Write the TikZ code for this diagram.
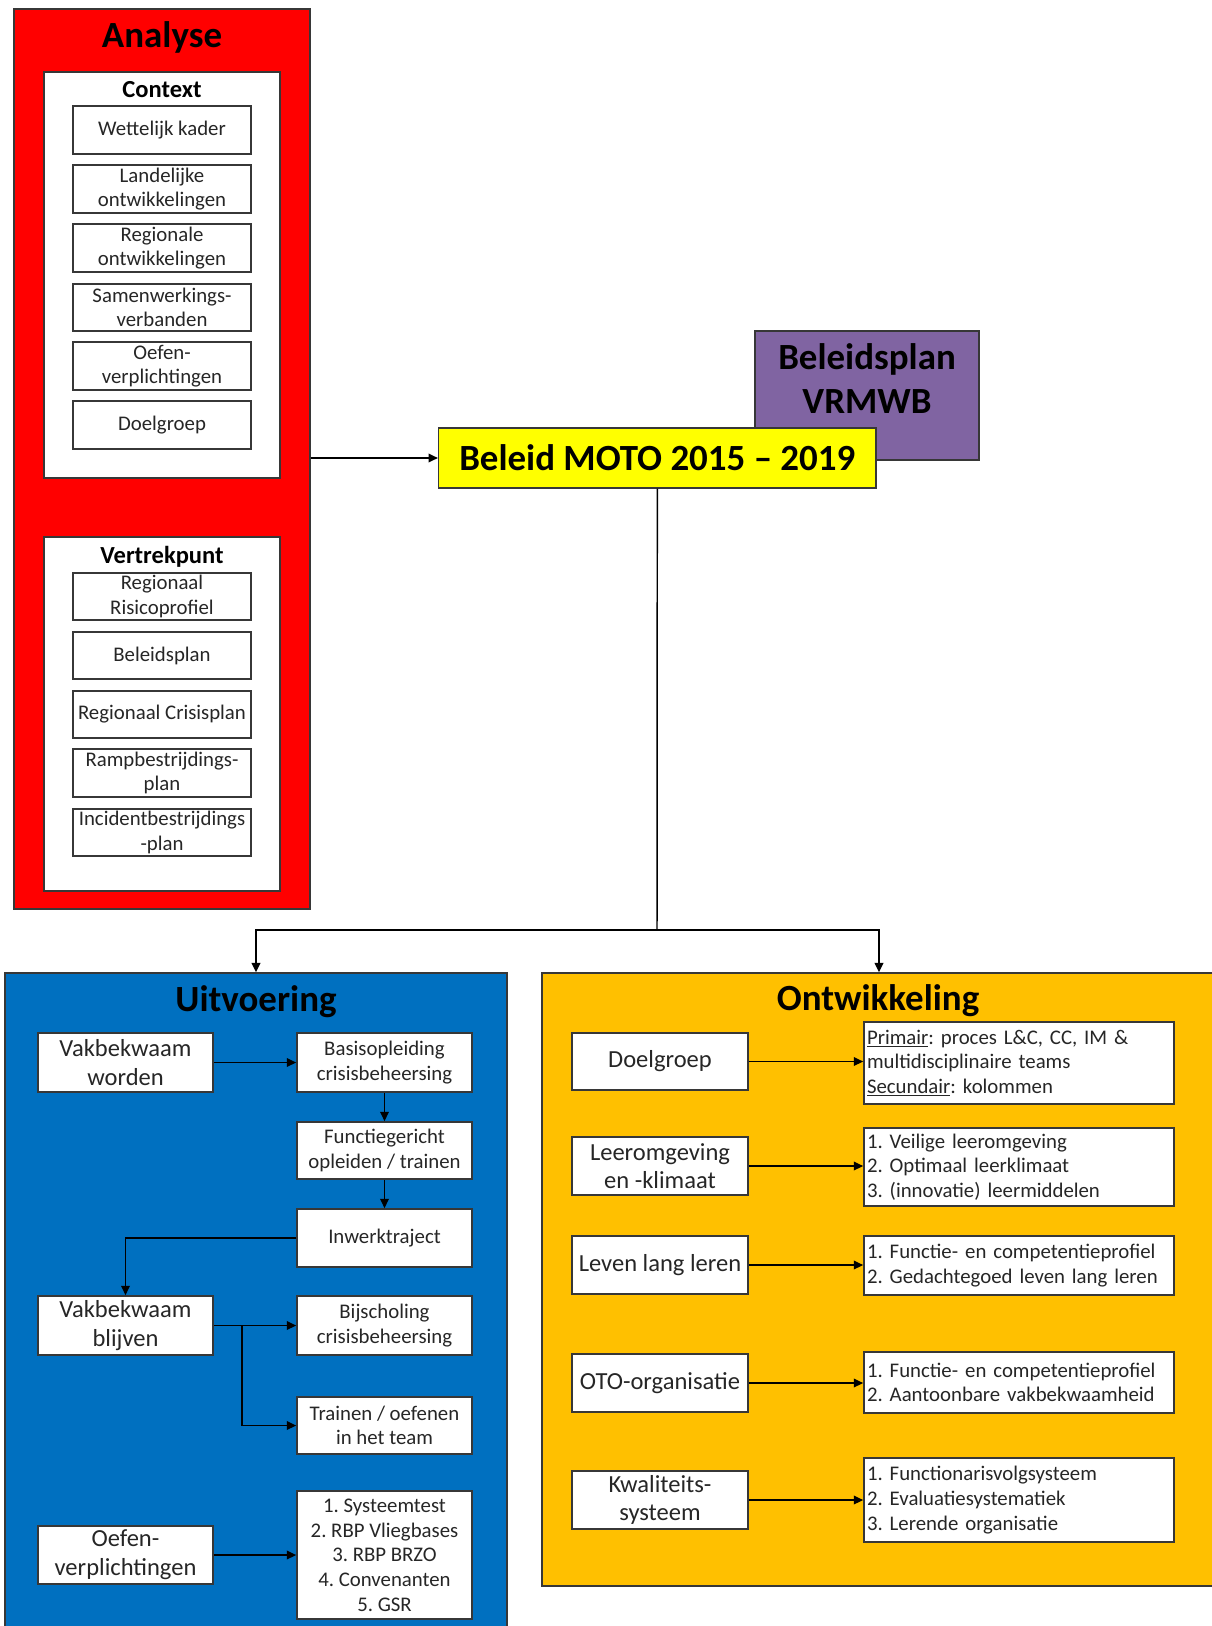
\documentclass[tikz,border=0pt]{standalone}
\usepackage{fontspec}
\setmainfont{Carlito}
\frenchspacing
\usetikzlibrary{arrows.meta}
\definecolor{redA}{RGB}{255,0,0}
\definecolor{blueU}{RGB}{0,112,192}
\definecolor{orangeO}{RGB}{255,192,0}
\definecolor{purpleB}{RGB}{128,100,162}
\definecolor{yellowM}{RGB}{255,255,0}
\definecolor{txt}{RGB}{38,38,38}
\definecolor{edge}{RGB}{55,55,55}
\newcommand{\fsml}{\fontsize{15.6}{18.5}\selectfont}
\newcommand{\fmed}{\fontsize{18.4}{21.5}\selectfont}
\newcommand{\fsub}{\fontsize{18.4}{22}\selectfont\bfseries}
\newcommand{\fbig}{\fontsize{27.7}{33}\selectfont\bfseries}
% [style]{name}{x1}{y1}{x2}{y2}{text}
\newcommand{\pbox}[7][]{\node[pbase,#1,minimum width={(#5-#3)*0.75pt},minimum height={(#6-#4)*0.75pt}] (#2) at ({(#3+#5)/2},{(#4+#6)/2}) {#7};}
\newcommand{\lbox}[7][]{\node[pbase,#1,align=left,text width={(#5-#3-6)*0.75pt},minimum width={(#5-#3)*0.75pt},minimum height={(#6-#4)*0.75pt}] (#2) at ({(#3+#5)/2},{(#4+#6)/2}) {#7};}
\tikzset{
  pbase/.style={rectangle, inner sep=0pt, align=center, text=txt},
  bigbox/.style={draw=edge, line width=1.1pt},
  ibox/.style={draw=edge, fill=white, line width=1.3pt, font=\fsml},
  mbox/.style={draw=edge, fill=white, line width=1.3pt, font=\fmed},
  rbox/.style={draw=edge, fill=white, line width=1.3pt, font=\fsml, inner xsep=2.2pt},
  ttl/.style={inner sep=0pt, text=black, font=\fbig},
  sttl/.style={inner sep=0pt, text=black, font=\fsub},
  conn/.style={draw=black, line width=1.1pt},
  arr/.style={conn, -{Triangle[length=7pt,width=6.5pt]}}
}
\begin{document}
\begin{tikzpicture}[x=0.75pt,y=-0.75pt]
\useasboundingbox (0,0) rectangle (1212,1626);
\clip (0,0) rectangle (1212,1626);
\fill[white] (0,0) rectangle (1212,1626);
% Analyse
\pbox[bigbox, fill=redA]{analyse}{14}{9}{310}{909}{}
\node[ttl] (tanalyse) at (162,37) {Analyse};
\pbox[bigbox, fill=white]{context}{44}{72}{280}{478}{}
\node[sttl] (tcontext) at (162,90) {Context};
\pbox[ibox]{c1}{73}{106}{251}{154}{Wettelijk kader}
\pbox[ibox]{c2}{73}{165}{251}{213}{Landelijke\\ontwikkelingen}
\pbox[ibox]{c3}{73}{224}{251}{272}{Regionale\\ontwikkelingen}
\pbox[ibox]{c4}{73}{284}{251}{331}{Samenwerkings-\\verbanden}
\pbox[ibox]{c5}{73}{342}{251}{390}{Oefen-\\verplichtingen}
\pbox[ibox]{c6}{73}{401}{251}{449}{Doelgroep}
\pbox[bigbox, fill=white]{vertrek}{44}{537}{280}{891}{}
\node[sttl] (tvertrek) at (162,557) {Vertrekpunt};
\pbox[ibox]{v1}{73}{573}{251}{620}{Regionaal\\Risicoprofiel}
\pbox[ibox]{v2}{73}{632}{251}{679}{Beleidsplan}
\pbox[ibox]{v3}{73}{691}{251}{738}{Regionaal Crisisplan}
\pbox[ibox]{v4}{73}{749}{251}{797}{Rampbestrijdings-\\plan}
\pbox[ibox]{v5}{73}{809}{251}{856}{Incidentbestrijdings\\-plan}
% Beleid
\pbox[bigbox, fill=purpleB]{purple}{755}{331}{979}{460}{}
\node[ttl, align=center] (tpurple) at (867,379) {Beleidsplan\\VRMWB};
\pbox[bigbox, fill=yellowM, font=\fbig, text=black]{moto}{438.6}{428}{876}{488}{Beleid MOTO 2015 -- 2019}
% Uitvoering / Ontwikkeling frames
\pbox[bigbox, fill=blueU]{uitv}{5}{973}{507}{1640}{}
\node[ttl] (tuitv) at (256,1002) {Uitvoering};
\pbox[bigbox, fill=orangeO]{ontw}{542}{973}{1216}{1586}{}
\node[ttl] (tontw) at (878,1001) {Ontwikkeling};
% main connectors
\coordinate (split) at (657,930);
\draw[arr] (moto.west -| analyse.east) -- (moto.west);
\draw[conn] (moto.south) -- (split);
\draw[arr] (split) -| (uitv.north);
\draw[arr] (split) -| (ontw.north);
% Uitvoering boxes
\pbox[mbox]{vw}{38}{1033}{213}{1092}{Vakbekwaam\\worden}
\pbox[ibox]{bas}{297}{1033}{472}{1092}{Basisopleiding\\crisisbeheersing}
\pbox[ibox]{fun}{297}{1122}{472}{1179}{Functiegericht\\opleiden / trainen}
\pbox[ibox]{inw}{297}{1209}{472}{1267}{Inwerktraject}
\pbox[mbox]{vb}{38}{1296}{213}{1355}{Vakbekwaam\\blijven}
\pbox[ibox]{bij}{297}{1296}{472}{1355}{Bijscholing\\crisisbeheersing}
\pbox[ibox]{tr}{297}{1397}{472}{1454}{Trainen / oefenen\\in het team}
\pbox[mbox]{ov}{38}{1526}{213}{1584}{Oefen-\\verplichtingen}
\pbox[ibox]{lst}{297}{1491}{472}{1619}{1. Systeemtest\\2. RBP Vliegbases\\3. RBP BRZO\\4. Convenanten\\5. GSR}
\draw[arr] (vw.east) -- (vw.east -| bas.west);
\draw[arr] (bas.south) -- (fun.north);
\draw[arr] (fun.south) -- (inw.north);
\draw[arr] (inw.west) -| (vb.north);
\draw[arr] (vb.east) -- (vb.east -| bij.west);
\coordinate (br) at (242,1326);
\draw[arr] (br) |- (tr.west);
\draw[arr] (ov.east) -- (ov.east -| lst.west);
% Ontwikkeling boxes
\pbox[mbox]{dg}{572}{1033}{748}{1090}{Doelgroep}
\lbox[rbox]{r1}{864}{1022}{1174}{1104}{\underline{Primair}: proces L\&C, CC, IM \&\\multidisciplinaire teams\\\underline{Secundair}: kolommen}
\pbox[mbox]{le}{572}{1137}{748}{1195}{Leeromgeving\\en -klimaat}
\lbox[rbox]{r2}{864}{1128}{1174}{1206}{1. Veilige leeromgeving\\2. Optimaal leerklimaat\\3. (innovatie) leermiddelen}
\pbox[mbox]{ll}{572}{1236}{748}{1294}{Leven lang leren}
\lbox[rbox]{r3}{864}{1236}{1174}{1295}{1. Functie- en competentieprofiel\\2. Gedachtegoed leven lang leren}
\pbox[mbox]{oto}{572}{1354}{748}{1412}{OTO-organisatie}
\lbox[rbox]{r4}{864}{1352}{1174}{1413}{1. Functie- en competentieprofiel\\2. Aantoonbare vakbekwaamheid}
\pbox[mbox]{kw}{572}{1471}{748}{1529}{Kwaliteits-\\systeem}
\lbox[rbox]{r5}{864}{1458}{1174}{1542}{1. Functionarisvolgsysteem\\2. Evaluatiesystematiek\\3. Lerende organisatie}
\draw[arr] (dg.east) -- (dg.east -| r1.west);
\draw[arr] (le.east) -- (le.east -| r2.west);
\draw[arr] (ll.east) -- (ll.east -| r3.west);
\draw[arr] (oto.east) -- (oto.east -| r4.west);
\draw[arr] (kw.east) -- (kw.east -| r5.west);
\end{tikzpicture}
\end{document}
